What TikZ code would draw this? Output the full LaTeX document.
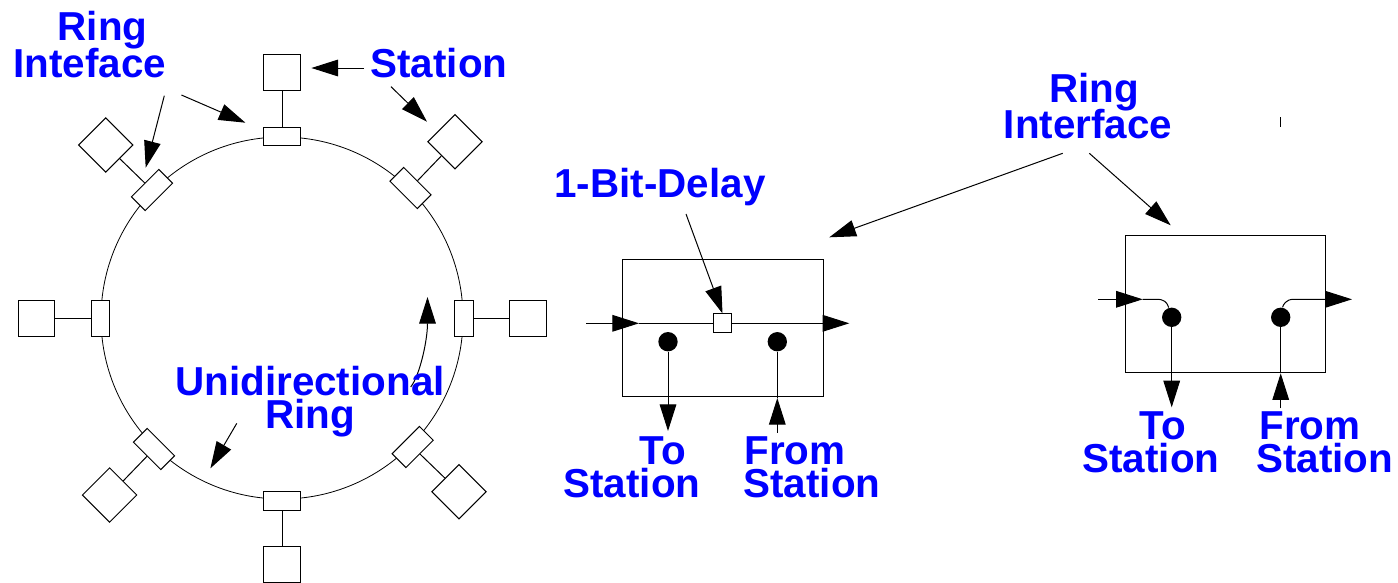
\documentclass[tikz,border=0pt]{standalone}
\usepackage{fontspec}
\setmainfont{Liberation Sans}
\usetikzlibrary{arrows.meta}
\tikzset{
  stationbox/.style={draw,fill=white,inner sep=0,minimum size=27.5pt},
  ifacebox/.style={draw,fill=white,inner sep=0,minimum width=27.5pt,minimum height=14pt},
  tiltstation/.style={stationbox,minimum size=28.8pt,rotate=45},
  tiltiface/.style={ifacebox,minimum width=29pt,minimum height=14.6pt},
  delaybox/.style={draw,fill=white,inner sep=0,minimum size=14pt},
  tapdot/.style={circle,fill=black,inner sep=0,minimum size=14.5pt},
  lbl/.style={text=blue,inner sep=0,anchor=base,font=\fontsize{30.3}{34}\selectfont\bfseries},
  arr/.style={-{Triangle[length=20pt,width=12.5pt]}}
}
\begin{document}
\begin{tikzpicture}[x=0.75pt,y=-0.75pt,line width=0.75pt]
    \clip (0,0) rectangle (1398,582);

    \node[draw,circle,inner sep=0,line width=0.6pt,minimum size=271.5pt] (ring) at (282,318) {};

    % stations and interfaces round the ring
    \foreach \n/\x/\y/\u/\v/\a in {T/282/72.5/282/136.5/0, B/282/564.5/282/501/0, L/36.5/318.5/100.5/318.5/90, R/528/318.5/464/318.5/90} {
        \node[stationbox] (st\n) at (\x,\y) {};
        \node[ifacebox,rotate=\a] (if\n) at (\u,\v) {};
        \draw (st\n) -- (if\n);
    }
    \foreach \n/\x/\y/\u/\v/\a in {TL/105.7/145/152/190/45, TR/455/141.7/410.5/188/-45, BL/109.6/495/154/449/-45, BR/459/491.7/412.7/447/45} {
        \node[tiltstation] (st\n) at (\x,\y) {};
        \node[tiltiface,rotate=\a] (if\n) at (\u,\v) {};
        \draw (st\n) -- (if\n);
    }

    % free ends of the arrows
    \foreach \n/\x/\y in {a/364/68, b/311.4/68, c/391/86.7, d/427/121.7, e/181.4/95, f/245.4/122.7, g/164.3/95.7, h/145.7/167.7,
        i/236.8/423.3, j/210.4/468.3, k/410.7/387, l/427.5/297, m/686/214, o/1062.7/153.3, p/829.3/237.3, q/1089.3/153.3, r/1170.7/225.3,
        inA/586/323.3, tipA/639/323.3, outA/849.3/323.3, downA/668/431, upA/777.3/432.7, tipB/777.3/398,
        inC/1098/299.3, tipC/1142.7/299.3, bendC/1156.7/299.3, bendD/1293.3/299.3, outC/1352/299.3, downC/1171.7/407.3, upC/1280.7/408.3, tipD/1280.7/373.3}
        \coordinate (\n) at (\x,\y);

    \draw[arr] (a) -- (b);
    \draw[arr] (c) -- (d);
    \draw[arr] (e) -- (f);
    \draw[arr] (g) -- (h);
    \draw[arr] (i) -- (j);
    \draw[arr] (k) .. controls (420,375) and (427.5,340) .. (l);

    % ring interface with the delay
    \node[draw,inner sep=0,minimum width=151pt,minimum height=102.75pt] (boxA) at (722.75,327.8) {};
    \node[delaybox] (delay) at (722.5,323.3) {};
    \node[tapdot] (dotA) at (668,341.7) {};
    \node[tapdot] (dotB) at (777.3,341.7) {};

    \draw[arr] (inA) -- (tipA);
    \draw (tipA) -- (delay);
    \draw[arr] (delay) -- (outA);
    \draw[arr] (dotA) -- (downA);
    \draw (dotB) -- (tipB);
    \draw[arr] (upA) -- (tipB);
    \draw[arr] (m) -- (delay.north);

    % ring interface with the tap closed
    \node[draw,inner sep=0,minimum width=150.3pt,minimum height=102.75pt] (boxB) at (1225.5,303.8) {};
    \node[tapdot] (dotC) at (1171.7,317.3) {};
    \node[tapdot] (dotD) at (1280.7,317.3) {};

    \draw[arr] (inC) -- (tipC);
    \draw (tipC) -- (bendC) .. controls (1164,299.3) and (1167,302) .. (dotC);
    \draw[arr] (dotD) .. controls (1283,305) and (1286,299.3) .. (bendD) -- (outC);
    \draw[arr] (dotC) -- (downC);
    \draw (dotD) -- (tipD);
    \draw[arr] (upC) -- (tipD);

    \draw[arr] (o) -- (p);
    \draw[arr] (q) -- (r);

    \coordinate (tickA) at (1280.5,117);
    \coordinate (tickB) at (1280.5,127);
    \draw (tickA) -- (tickB);

    \node[lbl] (ringA) at (102.6,40) {Ring};
    \node[lbl] (ringB) at (89.7,77) {Inteface};
    \node[lbl] (stationA) at (439,77) {Station};
    \node[lbl] (uniA) at (310,395) {Unidirectional};
    \node[lbl] (uniB) at (310,428.7) {Ring};
    \node[lbl] (delayA) at (660,197) {1-Bit-Delay};
    \node[lbl] (toA) at (663,464) {To};
    \node[lbl] (toB) at (632,497.7) {Station};
    \node[lbl] (fromA) at (795,464) {From};
    \node[lbl] (fromB) at (812,497.7) {Station};
    \node[lbl] (ringC) at (1094,102.7) {Ring};
    \node[lbl] (ringD) at (1088,138.7) {Interface};
    \node[lbl] (toC) at (1162.5,439) {To};
    \node[lbl] (toD) at (1151,472.7) {Station};
    \node[lbl] (fromC) at (1310,439) {From};
    \node[lbl] (fromD) at (1324.7,472.7) {Station};
\end{tikzpicture}
\end{document}
